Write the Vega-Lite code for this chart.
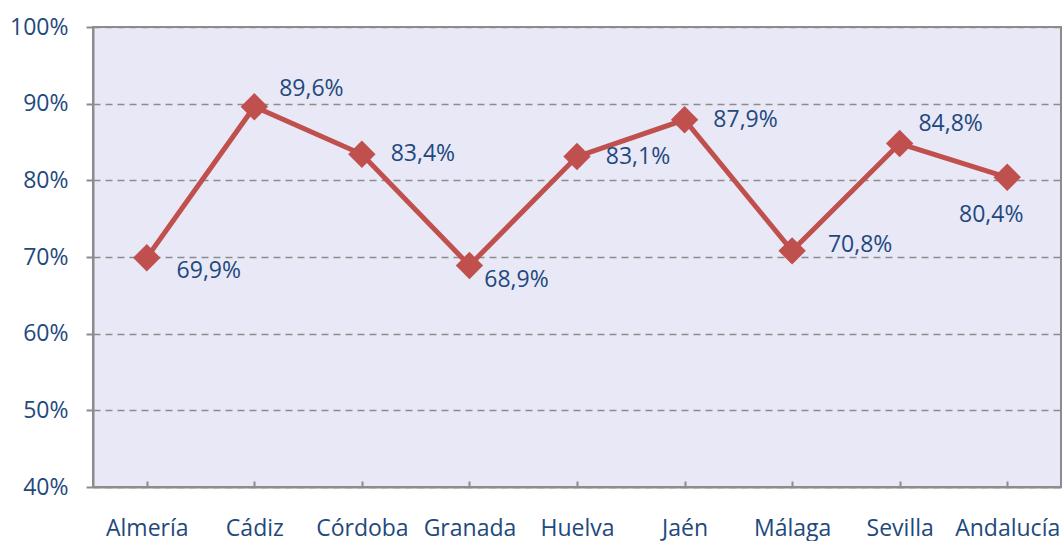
{
  "$schema": "https://vega.github.io/schema/vega-lite/v6.json",
  "width": 968,
  "height": 460,
  "autosize": {"type": "none"},
  "padding": {"left": 93, "top": 27, "right": 3, "bottom": 54},
  "background": "white",
  "config": {
    "view": {"fill": "#E8E8F6", "stroke": "#8C8C8C", "strokeWidth": 2},
    "font": "Open Sans"
  },
  "data": {
    "values": [
      {"provincia": "Almería", "valor": 0.699, "label": "69,9%", "pos": "dr"},
      {"provincia": "Cádiz", "valor": 0.896, "label": "89,6%", "pos": "ur"},
      {"provincia": "Córdoba", "valor": 0.834, "label": "83,4%", "pos": "r"},
      {"provincia": "Granada", "valor": 0.689, "label": "68,9%", "pos": "dr2"},
      {"provincia": "Huelva", "valor": 0.831, "label": "83,1%", "pos": "r"},
      {"provincia": "Jaén", "valor": 0.879, "label": "87,9%", "pos": "r"},
      {"provincia": "Málaga", "valor": 0.708, "label": "70,8%", "pos": "r2"},
      {"provincia": "Sevilla", "valor": 0.848, "label": "84,8%", "pos": "ur2"},
      {"provincia": "Andalucía", "valor": 0.804, "label": "80,4%", "pos": "d"}
    ]
  },
  "encoding": {
    "x": {
      "field": "provincia", "type": "nominal", "sort": null,
      "scale": {"type": "point", "padding": 0.5},
      "axis": {
        "title": null, "labelAngle": 0, "labelFont": "Open Sans", "labelFontSize": 23,
        "labelColor": "#1F497D", "domainColor": "#8C8C8C", "domainWidth": 2,
        "tickColor": "#8C8C8C", "tickWidth": 2, "tickSize": -6, "labelPadding": 36,
        "grid": false
      }
    },
    "y": {
      "field": "valor", "type": "quantitative",
      "scale": {"domain": [0.4, 1.0], "nice": false, "zero": false},
      "axis": {
        "title": null, "format": ".0%", "values": [0.4, 0.5, 0.6, 0.7, 0.8, 0.9, 1.0],
        "labelFont": "Open Sans", "labelFontSize": 23, "labelColor": "#1F497D",
        "domainColor": "#8C8C8C", "domainWidth": 2, "tickColor": "#8C8C8C",
        "tickWidth": 2, "tickSize": 7, "labelPadding": 18,
        "grid": true, "gridColor": "#8C8C8C", "gridDash": [7, 5], "gridWidth": 1.5
      }
    }
  },
  "layer": [
    {"mark": {"type": "line", "color": "#C0504D", "strokeWidth": 5}},
    {"mark": {"type": "point", "shape": "diamond", "filled": true, "opacity": 1, "color": "#C0504D", "size": 750}},
    {"transform": [{"filter": "datum.pos == 'dr'"}],
     "mark": {"type": "text", "font": "Open Sans", "fontSize": 23, "color": "#1F497D", "dx": 62, "dy": 13},
     "encoding": {"text": {"field": "label"}}},
    {"transform": [{"filter": "datum.pos == 'ur'"}],
     "mark": {"type": "text", "font": "Open Sans", "fontSize": 23, "color": "#1F497D", "dx": 57, "dy": -18},
     "encoding": {"text": {"field": "label"}}},
    {"transform": [{"filter": "datum.pos == 'r'"}],
     "mark": {"type": "text", "font": "Open Sans", "fontSize": 23, "color": "#1F497D", "dx": 61, "dy": 0},
     "encoding": {"text": {"field": "label"}}},
    {"transform": [{"filter": "datum.pos == 'dr2'"}],
     "mark": {"type": "text", "font": "Open Sans", "fontSize": 23, "color": "#1F497D", "dx": 47, "dy": 15},
     "encoding": {"text": {"field": "label"}}},
    {"transform": [{"filter": "datum.pos == 'r2'"}],
     "mark": {"type": "text", "font": "Open Sans", "fontSize": 23, "color": "#1F497D", "dx": 68, "dy": -6},
     "encoding": {"text": {"field": "label"}}},
    {"transform": [{"filter": "datum.pos == 'ur2'"}],
     "mark": {"type": "text", "font": "Open Sans", "fontSize": 23, "color": "#1F497D", "dx": 51, "dy": -20},
     "encoding": {"text": {"field": "label"}}},
    {"transform": [{"filter": "datum.pos == 'd'"}],
     "mark": {"type": "text", "font": "Open Sans", "fontSize": 23, "color": "#1F497D", "dx": -16, "dy": 38},
     "encoding": {"text": {"field": "label"}}}
  ]
}
